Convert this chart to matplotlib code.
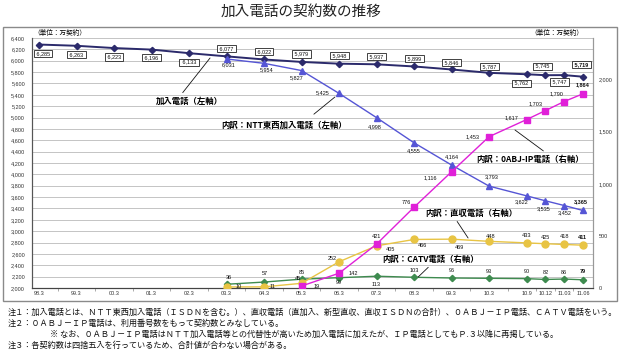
import numpy as np
import matplotlib.pyplot as plt
from matplotlib.patches import Rectangle

plt.rcParams['font.family'] = ['Liberation Sans', 'Noto Sans CJK JP', 'DejaVu Sans']
JP = ['Noto Sans CJK JP', 'DejaVu Sans']
nan = np.nan

periods = ['98.3', '99.3', '00.3', '01.3', '02.3', '03.3', '04.3', '05.3', '06.3',
           '07.3', '08.3', '09.3', '10.3', '10.9', '10.12', '11.03', '11.06']
total = [6285, 6263, 6223, 6196, 6133, 6077, 6022, 5979, 5948, 5937, 5899, 5846,
         5787, 5762, 5745, 5747, 5719]
ntt = [nan] * 5 + [6031, 5954, 5827, 5425, 4998, 4555, 4164, 3793, 3622, 3535, 3452, 3365]
ip = [nan] * 7 + [19, 142, 421, 776, 1116, 1453, 1617, 1703, 1790, 1864]
direct = [nan] * 5 + [10, 11, 45, 252, 405, 466, 469, 448, 433, 425, 418, 411]
catv = [nan] * 5 + [36, 57, 85, 99, 113, 103, 96, 93, 90, 82, 86, 79]

# yearly steps up to 10.3, then quarterly
x = np.r_[np.arange(13), 13 + 0.5 * np.arange(4)]

fig = plt.figure(figsize=(6.4, 3.51), dpi=100)
ax = fig.add_axes([32 / 640, 1 - 288 / 351, 561 / 640, 250 / 351])
ax2 = ax.twinx()

ax.set_xlim(-0.187, 14.77)
ax.set_ylim(2000, 6400)
ax2.set_ylim(0, 2400)

ax.set_yticks(np.arange(2000, 6401, 200))
ax.set_yticklabels([f'{v:,}' for v in range(2000, 6401, 200)])
ax2.set_yticks(np.arange(0, 2001, 500))
ax2.set_yticklabels([f'{v:,}' for v in range(0, 2001, 500)])
ax.set_xticks(x)
ax.set_xticklabels(periods)
ax.set_xticks((x[:-1] + x[1:]) / 2, minor=True)
ax.tick_params(axis='x', which='major', length=0, labelsize=4, pad=2, colors='#333333')
ax.tick_params(axis='x', which='minor', length=2, width=0.5, color='#888888')
ax.tick_params(axis='y', length=0, labelsize=4, pad=5, colors='#333333')
ax2.tick_params(axis='y', length=0, labelsize=4, pad=4, colors='#333333')
ax.grid(axis='y', color='#c4c4c4', lw=0.7)
ax.set_axisbelow(True)
for a in (ax, ax2):
    a.spines['top'].set_visible(False)
    a.spines['left'].set_color('#555555')
    a.spines['bottom'].set_color('#444444')
    a.spines['right'].set_color('#999999')
    for s in a.spines.values():
        s.set_linewidth(0.8)
ax.patch.set_visible(False)

# lines
ax.plot(x, total, color='#2b2a6b', lw=1.4, marker='D', ms=3.2, zorder=5)
ax.plot(x, ntt, color='#5555d5', lw=1.0, marker='^', ms=4.5, zorder=5)
ax2.plot(x, catv, color='#3e8b4f', lw=1.0, marker='D', ms=3.2, zorder=3)
ax2.plot(x, direct, color='#e8c444', lw=1.0, marker='o', ms=5, zorder=4)
ax2.plot(x, ip, color='#e020d8', lw=1.0, marker='s', ms=5, zorder=5)

# label offsets in pixels (dx, dy up)
off_total = [(4, -9), (0, -9), (0, -9), (0, -8), (0, -9), (0, 8), (0, 8), (0, 8), (0, 8),
             (0, 8), (0, 8), (0, 7), (0, 6), (-5, -9), (-3, 9), (-5, -7), (-1, 12)]
off_ntt = [(2, -6), (3, -6), (-5, -7), (-16, 1), (-2, -9), (0, -8), (0, 8), (3, 9),
           (-5, -6), (-2, -8), (1, -7), (-2, 9)]
off_ip = [(15, 0), (14, 0), (0, 8), (-8, 5), (-21, -6), (-17, 0), (-15, 2), (-10, 7),
          (-8, 8), (0, 9)]
off_direct = [(12, 0), (8, 0), (-4, 5), (-7, 3), (14, -4), (8, -6), (8, -8), (2, 5),
              (0, 7), (0, 6), (0, 8), (0, 8)]
off_catv = [(2, 7), (1, 9), (0, 7), (0, -5), (0, -8), (0, 7), (0, 7), (0, 7), (0, 7),
            (0, 7), (0, 7), (0, 8)]


def put_labels(a, vals, offs, boxed=False, bold_last=False):
    pts = [(xi, v) for xi, v in zip(x, vals) if not np.isnan(v)]
    for i, ((xi, v), (dx, dy)) in enumerate(zip(pts, offs)):
        last = i == len(pts) - 1
        kw = {}
        txt = f'{int(v):,}'
        if boxed:
            txt = ' ' + txt + ' '
            kw['bbox'] = dict(boxstyle='square,pad=0.2', fc='white', ec='#222222', lw=0.6)
        a.annotate(txt, (xi, v), xytext=(dx, dy), textcoords='offset pixels',
                   ha='center', va='center', fontsize=4, color='#111111',
                   fontweight='bold' if (bold_last and last) else 'normal',
                   zorder=8, **kw)


put_labels(ax, total, off_total, boxed=True, bold_last=True)
put_labels(ax, ntt, off_ntt, bold_last=True)
put_labels(ax2, ip, off_ip, bold_last=True)
put_labels(ax2, direct, off_direct, bold_last=True)
put_labels(ax2, catv, off_catv, bold_last=True)

# series names with leader lines
lead = dict(arrowstyle='-', color='#111111', lw=0.6, shrinkA=1, shrinkB=0)
ax.annotate('加入電話（左軸）', xy=(4.56, 6048), xytext=(4.00, 5291), ha='center',
            va='center', fontsize=6, fontweight='bold', family=JP,
            arrowprops=dict(lead, relpos=(0.36, 1)))
ax.annotate('内訳：NTT東西加入電話（左軸）', xy=(7.89, 5362), xytext=(6.52, 4869),
            ha='center', va='center', fontsize=6, fontweight='bold', family=JP,
            arrowprops=dict(lead, relpos=(0.68, 1), shrinkA=4))
ax2.annotate('内訳：0ABJ-IP電話（右軸）', xy=(12.69, 1517), xytext=(13.09, 1238),
             ha='center', va='center', fontsize=6, fontweight='bold', family=JP,
             arrowprops=dict(lead, relpos=(0.67, 1)))
ax2.annotate('内訳：直収電話（右軸）', xy=(11.44, 480), xytext=(11.52, 720),
             ha='center', va='center', fontsize=6, fontweight='bold', family=JP,
             arrowprops=dict(lead, relpos=(0.32, 0)))
ax2.annotate('内訳：CATV電話（右軸）', xy=(10.11, 106), xytext=(10.43, 278),
             ha='center', va='center', fontsize=6, fontweight='bold', family=JP,
             arrowprops=dict(lead, relpos=(0.52, 0)))

# frame, title, units, notes
fig.patches.append(Rectangle((3 / 640, 1 - 301 / 351), 614 / 640, 274 / 351, fill=False,
                             ec='#8a8a8a', lw=1, transform=fig.transFigure))
fig.text(301 / 640, 1 - 12 / 351, '加入電話の契約数の推移', ha='center', va='center',
         fontsize=10.5, family=JP, color='#222222')
fig.text(60 / 640, 1 - 33 / 351, '（単位：万契約）', ha='center', va='center',
         fontsize=4.8, family=JP)
fig.text(557 / 640, 1 - 33 / 351, '（単位：万契約）', ha='center', va='center',
         fontsize=4.8, family=JP)

notes = [
    (8, '注１：加入電話とは、ＮＴＴ東西加入電話（ＩＳＤＮを含む。）、直収電話（直加入、新型直収、直収ＩＳＤＮの合計）、０ＡＢＪ－ＩＰ電話、ＣＡＴＶ電話をいう。'),
    (8, '注２：０ＡＢＪ－ＩＰ電話は、利用番号数をもって契約数とみなしている。'),
    (50, '※ なお、０ＡＢＪ－ＩＰ電話はＮＴＴ加入電話等との代替性が高いため加入電話に加えたが、ＩＰ電話としてもＰ.３以降に再掲している。'),
    (8, '注３：各契約数は四捨五入を行っているため、合計値が合わない場合がある。'),
]
for (nx, line), ny in zip(notes, [312, 323, 334, 345]):
    fig.text(nx / 640, 1 - ny / 351, line, ha='left', va='center', fontsize=5.9,
             family=JP, color='#111111')

plt.savefig('out.png', dpi=100)
